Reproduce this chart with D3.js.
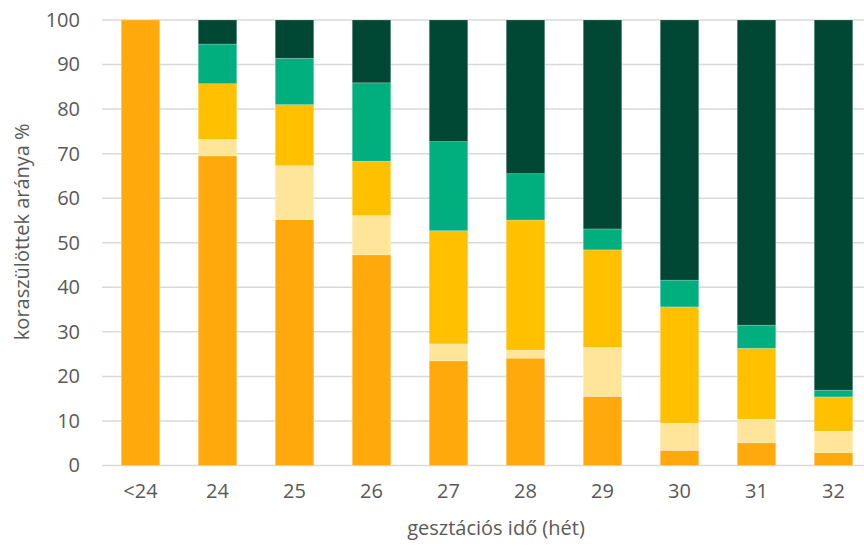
<!DOCTYPE html>
<html>
<head>
<meta charset="utf-8">
<script src="https://cdn.jsdelivr.net/npm/d3@7"></script>
<style>
  html, body { margin: 0; padding: 0; background: #fff; }
  svg { display: block; font-family: "Open Sans", Lato, sans-serif; }
</style>
</head>
<body>
<svg id="chart" width="864" height="546"></svg>
<script>
// Gestational age categories (weeks)
const categories = ["<24", "24", "25", "26", "27", "28", "29", "30", "31", "32"];

// Share of preterm births in each group, % (stacked bottom to top)
const seriesNames = ["s1", "s2", "s3", "s4", "s5"];
const s1 = [100, 69.5, 55.2, 47.3, 23.5, 24.1, 15.5, 3.4, 5.1, 2.9];
const s2 = [0, 3.7, 12.1, 8.8, 3.8, 1.8, 11.0, 6.1, 5.3, 4.8];
const s3 = [0, 12.5, 13.7, 12.2, 25.4, 29.2, 21.9, 26.1, 15.9, 7.7];
const s4 = [0, 8.9, 10.4, 17.6, 20.0, 10.4, 4.7, 6.0, 5.2, 1.5];
const s5 = [0, 5.4, 8.6, 14.1, 27.3, 34.5, 46.9, 58.4, 68.5, 83.1];

const yTicks = [0, 10, 20, 30, 40, 50, 60, 70, 80, 90, 100];
const colors = ["#FFA90D", "#FFE599", "#FFC000", "#00AE7E", "#004834"];

const rows = categories.map((c, i) => ({
  cat: c, s1: s1[i], s2: s2[i], s3: s3[i], s4: s4[i], s5: s5[i]
}));

const svg = d3.select("#chart");
const margin = { left: 102, right: -8, top: 20, bottom: 80.5 };
const W = 864, H = 546;
const font = "'Open Sans', sans-serif";
const textColor = "#595959";

const x = d3.scaleBand()
  .domain(categories)
  .range([margin.left, W - margin.right])
  .paddingInner(0.5)
  .paddingOuter(0.25);

const y = d3.scaleLinear()
  .domain([0, 100])
  .range([H - margin.bottom, margin.top]);

// Horizontal gridlines
svg.append("g")
  .selectAll("line")
  .data(yTicks)
  .join("line")
  .attr("x1", margin.left)
  .attr("x2", W)
  .attr("y1", d => y(d))
  .attr("y2", d => y(d))
  .attr("stroke", "#D9D9D9")
  .attr("stroke-width", 1.5);

// Stacked bars
const stack = d3.stack().keys(seriesNames);
const layers = stack(rows);

svg.append("g")
  .selectAll("g")
  .data(layers)
  .join("g")
  .attr("fill", (d, i) => colors[i])
  .selectAll("rect")
  .data(d => d.filter(p => p[1] - p[0] > 0))
  .join("rect")
  .attr("x", d => x(d.data.cat))
  .attr("width", x.bandwidth())
  .attr("y", d => y(d[1]))
  .attr("height", d => y(d[0]) - y(d[1]))
  .attr("stroke", "rgba(255,255,255,0.25)")
  .attr("stroke-width", 0.8);

// Y axis tick labels
const yAxis = d3.axisLeft(y).tickValues(yTicks).tickSize(0).tickPadding(0);
const gy = svg.append("g")
  .attr("transform", `translate(80,0)`)
  .call(yAxis);
gy.select(".domain").remove();
gy.selectAll("text")
  .attr("fill", textColor)
  .attr("font-size", 20)
  .attr("font-family", font);

// X axis tick labels
const xAxis = d3.axisBottom(x).tickSize(0).tickPadding(0);
const gx = svg.append("g")
  .attr("transform", `translate(0,${y(0) + 18})`)
  .call(xAxis);
gx.select(".domain").remove();
gx.selectAll("text")
  .attr("fill", textColor)
  .attr("font-size", 20)
  .attr("font-family", font);

// Axis titles
svg.append("text")
  .attr("x", 496)
  .attr("y", 535)
  .attr("text-anchor", "middle")
  .attr("fill", textColor)
  .attr("font-size", 20)
  .attr("font-family", font)
  .text("gesztációs idő (hét)");

svg.append("text")
  .attr("transform", `translate(29,${(y(0) + y(100)) / 2 - 11}) rotate(-90)`)
  .attr("text-anchor", "middle")
  .attr("fill", textColor)
  .attr("font-size", 20)
  .attr("font-family", font)
  .text("koraszülöttek aránya %");
</script>
</body>
</html>
